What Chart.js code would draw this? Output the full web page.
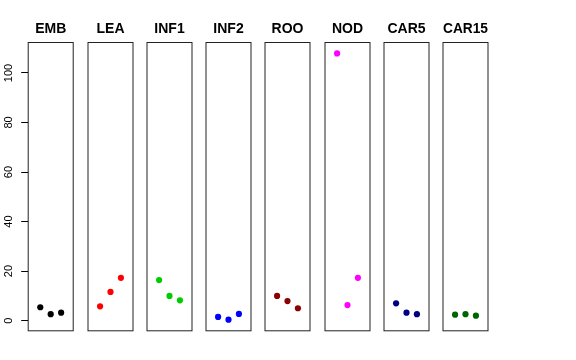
<!DOCTYPE html>
<html lang="en">
<head>
  <meta charset="UTF-8">
  <title>Panels</title>
  <script src="https://cdn.jsdelivr.net/npm/chart.js"></script>
  <style>
    body { margin: 0; background: #fff; }
    #wrap { position: relative; width: 576px; height: 360px; overflow: hidden; }
    #wrap canvas { position: absolute; top: 0; }
  </style>
</head>
<body>
  <div id="wrap"></div>

  <script>
    // panel names, colours and the three values in each panel
    const panelNames = ['EMB', 'LEA', 'INF1', 'INF2', 'ROO', 'NOD', 'CAR5', 'CAR15'];
    const panelColors = ['#000000', '#FF0000', '#00CD00', '#0000FF', '#8B0000', '#FF00FF', '#000080', '#006400'];
    const xPos = [1, 2, 3];
    const embVals = [5.4, 2.6, 3.2];
    const leaVals = [5.8, 11.6, 17.3];
    const inf1Vals = [16.4, 10.0, 8.2];
    const inf2Vals = [1.5, 0.4, 2.7];
    const rooVals = [10.0, 7.9, 5.0];
    const nodVals = [107.9, 6.3, 17.3];
    const car5Vals = [7.0, 3.2, 2.6];
    const car15Vals = [2.4, 2.6, 2.0];
    const yTicks = [0, 20, 40, 60, 80, 100];

    const allVals = [embVals, leaVals, inf1Vals, inf2Vals, rooVals, nodVals, car5Vals, car15Vals];

    // layout of the panel boxes (pixels)
    const boxLeft0 = 28.2, boxStep = 59.3, boxW = 45;
    const boxTop = 42.5, boxBottom = 330.8;
    const side = 7;

    // draw the box round each panel
    const boxPlugin = {
      id: 'box',
      afterDraw(chart) {
        const a = chart.chartArea, ctx = chart.ctx;
        ctx.save();
        ctx.strokeStyle = '#222';
        ctx.lineWidth = 1;
        ctx.strokeRect(a.left, a.top, a.right - a.left, a.bottom - a.top);
        ctx.restore();
      }
    };

    const wrap = document.getElementById('wrap');

    panelNames.forEach((name, i) => {
      const left = boxLeft0 + boxStep * i;
      const first = i === 0;
      const padL = first ? left : side;
      const canvas = document.createElement('canvas');
      canvas.width = Math.round(padL + boxW + side);
      canvas.height = 360;
      canvas.style.left = (left - padL) + 'px';
      wrap.appendChild(canvas);

      new Chart(canvas.getContext('2d'), {
        type: 'scatter',
        data: {
          datasets: [{
            data: xPos.map((x, j) => ({ x: x, y: allVals[i][j] })),
            backgroundColor: panelColors[i],
            borderWidth: 0,
            pointRadius: 3.1,
            pointHoverRadius: 3.1
          }]
        },
        plugins: [boxPlugin],
        options: {
          responsive: false,
          animation: false,
          events: [],
          layout: {
            padding: { left: first ? 0 : padL, right: canvas.width - padL - boxW, top: 0, bottom: 360 - boxBottom }
          },
          plugins: {
            legend: { display: false },
            tooltip: { enabled: false },
            title: {
              display: true,
              fullSize: false,
              text: name,
              color: '#000',
              font: { family: 'Liberation Sans', size: 14, weight: 'bold', lineHeight: 1.2 },
              padding: { top: 20.4, bottom: boxTop - 20.4 - 16.8 }
            }
          },
          scales: {
            x: {
              type: 'linear',
              min: -0.16,
              max: 4.16,
              display: false
            },
            y: {
              type: 'linear',
              min: -4.1,
              max: 112.3,
              display: first,
              afterFit: (s) => { if (first) s.width = boxLeft0; },
              afterBuildTicks: (s) => { s.ticks = yTicks.map(v => ({ value: v })); },
              border: { display: false },
              grid: {
                drawOnChartArea: false,
                drawTicks: true,
                tickLength: 7,
                color: '#000',
                lineWidth: 1
              },
              ticks: {
                color: '#000',
                font: { family: 'Liberation Sans', size: 11 },
                minRotation: 90,
                maxRotation: 90,
                crossAlign: 'center',
                padding: 3
              }
            }
          }
        }
      });
    });
  </script>
</body>
</html>
